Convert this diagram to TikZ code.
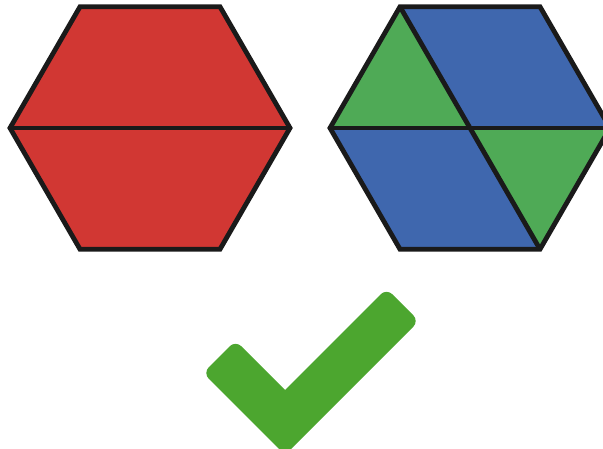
\documentclass[tikz,border=0pt]{standalone}
\definecolor{hexred}{HTML}{D13733}
\definecolor{hexblue}{HTML}{3F67AE}
\definecolor{hexgreen}{HTML}{4FAA56}
\definecolor{tickgreen}{HTML}{4CA62F}
\definecolor{hexline}{HTML}{1A1A1A}

\begin{document}
\begin{tikzpicture}[
  x=1pt,y=-1pt,
  outline/.style={draw=hexline,line width=4.8pt,line join=miter},
  cutline/.style={draw=hexline,line width=4.8pt}
]
\clip (0,0) rectangle (603,449);
% left hexagon: two red halves
\begin{scope}[shift={(150,128)}]
  \fill[hexred] (0:140) \foreach \a in {60,120,...,300} { -- (\a:140) } -- cycle;
  \draw[outline] (0:140) \foreach \a in {60,120,...,300} { -- (\a:140) } -- cycle;
  \draw[cutline] (180:140) -- (0:140);
\end{scope}
% right hexagon: two triangles and two rhombi
\begin{scope}[shift={(470,128)}]
  \coordinate (c) at (0,0);
  \coordinate (l) at (180:140);
  \coordinate (r) at (0:140);
  \coordinate (tl) at (240:140);
  \coordinate (tr) at (300:140);
  \coordinate (bl) at (120:140);
  \coordinate (br) at (60:140);
  \fill[hexgreen] (l) -- (tl) -- (c) -- cycle;
  \fill[hexblue] (tl) -- (tr) -- (r) -- (c) -- cycle;
  \fill[hexgreen] (c) -- (r) -- (br) -- cycle;
  \fill[hexblue] (l) -- (c) -- (br) -- (bl) -- cycle;
  \draw[outline] (r) -- (br) -- (bl) -- (l) -- (tl) -- (tr) -- cycle;
  \draw[cutline] (l) -- (r);
  \draw[cutline] (tl) -- (br);
\end{scope}
% check mark (its lower tip runs off the page)
\coordinate (inner) at (285,390);
\fill[tickgreen,rounded corners=8pt]
  (inner) -- (386.5,288.5) -- (419,321) -- (270,470) -- (300,470)
  -- (203,373) -- (235.5,340.5) -- (inner);
\end{tikzpicture}
\end{document}
